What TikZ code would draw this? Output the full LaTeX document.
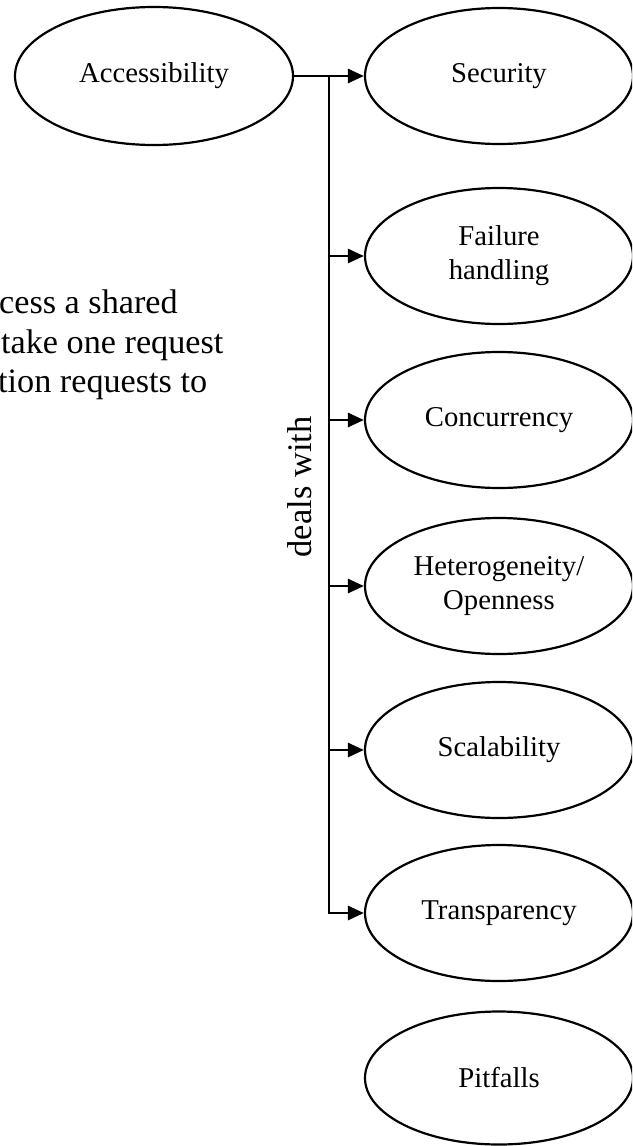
\documentclass[tikz,border=0pt]{standalone}
\usepackage{fontspec}
\setmainfont{Liberation Serif}
\usetikzlibrary{shapes.geometric,arrows.meta}

\tikzset{
  topic/.style={draw, ellipse, line width=2.2pt, inner sep=0pt,
    minimum width=268pt, minimum height=136pt, align=center,
    font=\fontsize{28.7}{34}\selectfont},
  conn/.style={line width=2.8pt, -{Triangle[length=16pt,width=14pt]}},
  prose/.style={anchor=base west, inner sep=0pt,
    font=\fontsize{34.2}{40}\selectfont},
}

\begin{document}
\begin{tikzpicture}[x=1pt, y=-1pt]
  \useasboundingbox (0,0) rectangle (632,1146);
  \clip (0,0) rectangle (632,1146);

  % source concept
  \node[topic, minimum width=278pt, minimum height=138pt] (acc) at (154,76) {Accessibility};

  % concerns, stacked in one column
  \node[topic] (sec)  at (499,76)   {Security};
  \node[topic] (fail) at (499,256)  {Failure\\handling};
  \node[topic] (conc) at (499,420)  {Concurrency};
  \node[topic] (het)  at (499,586)  {Heterogeneity/\\Openness};
  \node[topic] (scal) at (499,750)  {Scalability};
  \node[topic] (tra)  at (499,913)  {Transparency};
  \node[topic, minimum height=133pt] (pit) at (499,1078) {Pitfalls};

  % bus splitting the relation to each concern
  \coordinate (bus) at (329,76);
  \draw[conn] (acc.east) -- (sec.west);
  \draw[conn] (bus) |- (tra.west);
  \draw[conn] (bus |- fail.west) -- (fail.west);
  \draw[conn] (bus |- conc.west) -- (conc.west);
  \draw[conn] (bus |- het.west)  -- (het.west);
  \draw[conn] (bus |- scal.west) -- (scal.west);

  % relation label beside the bus
  \node[rotate=90, inner sep=0pt, font=\fontsize{34.5}{40}\selectfont] (deals) at (300,487) {deals with};

  % running text at the left margin
  \node[prose] (t1) at (-1,313) {cess a shared};
  \node[prose] (t2) at (1,353)  {take one request};
  \node[prose] (t3) at (-2,392) {tion requests to};
\end{tikzpicture}
\end{document}
